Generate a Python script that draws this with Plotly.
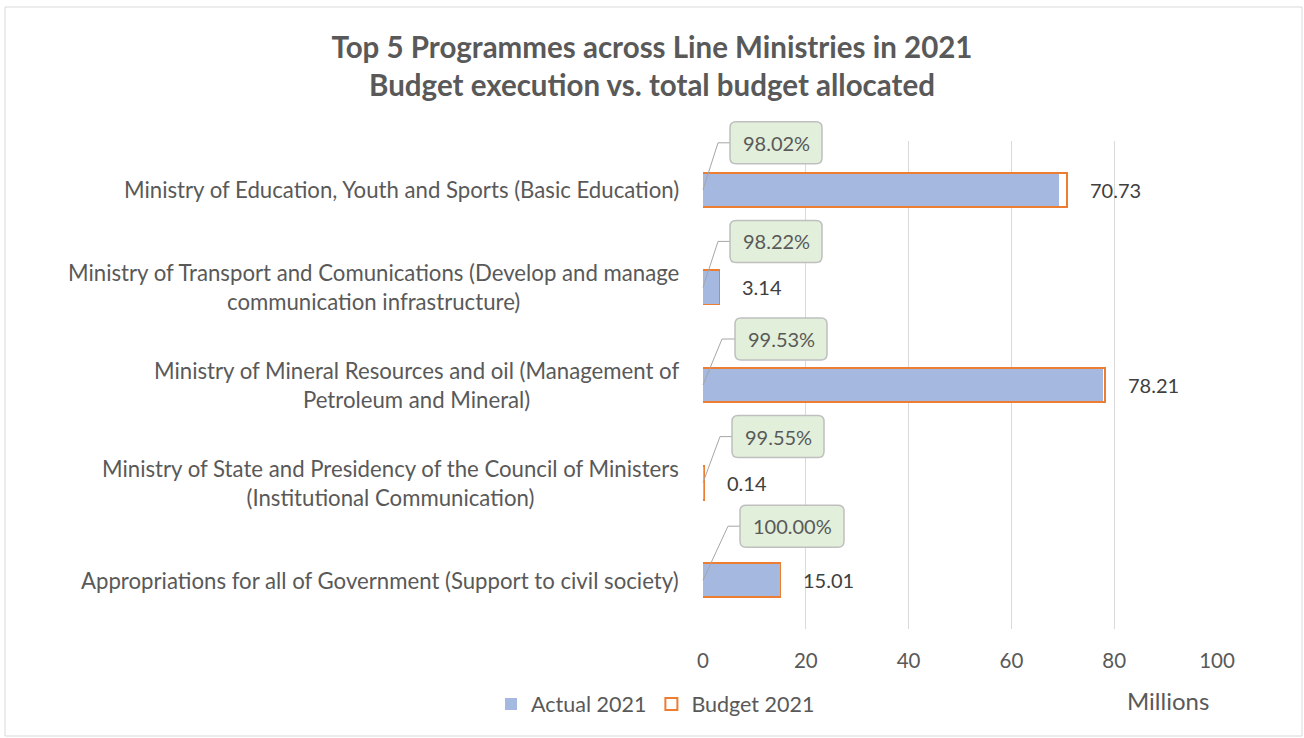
import plotly.graph_objects as go

categories = [
    "Ministry of Education, Youth and Sports (Basic Education)",
    "Ministry of Transport and Comunications (Develop and manage<br>communication infrastructure)",
    "Ministry of Mineral Resources and oil (Management of<br>Petroleum and Mineral)",
    "Ministry of State and Presidency of the Council of Ministers<br>(Institutional Communication)",
    "Appropriations for all of Government (Support to civil society)",
]
budget_2021 = [70.73, 3.14, 78.21, 0.14, 15.01]
actual_2021 = [69.33, 3.08, 77.84, 0.14, 15.01]
execution_labels = ["98.02%", "98.22%", "99.53%", "99.55%", "100.00%"]
x_ticks = [0, 20, 40, 60, 80, 100]

# layout geometry (pixels)
W, H = 1304, 738
L, R, T, B = 703, 87, 141, 109
PW, PH = W - L - R, H - T - B
FONT = "Lato"
GREY = "#595959"
N = len(categories)

ypos = list(range(N))


def ypaper(i):
    return 1 - (i + 0.5) / N


fig = go.Figure()
fig.add_trace(go.Bar(
    y=ypos, x=budget_2021, orientation="h", name="Budget 2021",
    marker=dict(color="white", line=dict(color="#ED7D31", width=2)),
    width=0.35, hoverinfo="skip",
))
fig.add_trace(go.Bar(
    y=ypos, x=actual_2021, orientation="h", name="Actual 2021",
    marker=dict(color="#A5B8E0", line=dict(width=0)),
    width=0.33, hoverinfo="skip",
))

annotations = []
shapes = []

# category labels
for i, c in enumerate(categories):
    annotations.append(dict(
        x=0, y=i, xref="x", yref="y", text=c, showarrow=False,
        xanchor="right", yanchor="middle", align="center", xshift=-22,
        font=dict(family=FONT, size=22.2, color=GREY),
    ))

# value labels
for i, v in enumerate(budget_2021):
    annotations.append(dict(
        x=v, y=i, xref="x", yref="y", text=f"{v:.2f}", showarrow=False,
        xanchor="left", yanchor="middle", xshift=21,
        font=dict(family=FONT, size=20, color="#404040"),
    ))

# callouts: (elbow_x, box_left, box_width, up)
callout_style = [(15, 27, 92, 47), (15, 27, 92, 46), (19, 32, 92, 46),
                 (17, 29, 92, 46), (25, 37, 104, 54)]
r = 6
hh = 21
for i, lab in enumerate(execution_labels):
    ex, bl, bw, up = callout_style[i]
    shapes.append(dict(
        type="path", xref="paper", yref="paper", xsizemode="pixel", ysizemode="pixel",
        xanchor=0, yanchor=ypaper(i),
        path=f"M 0,0 L {ex},{up} L {bl},{up}",
        line=dict(color="#A6A6A6", width=1),
    ))
    x0, x1 = bl, bl + bw
    y0, y1 = up - hh, up + hh
    p = (f"M {x0+r},{y0} L {x1-r},{y0} Q {x1},{y0} {x1},{y0+r} "
         f"L {x1},{y1-r} Q {x1},{y1} {x1-r},{y1} L {x0+r},{y1} "
         f"Q {x0},{y1} {x0},{y1-r} L {x0},{y0+r} Q {x0},{y0} {x0+r},{y0} Z")
    shapes.append(dict(
        type="path", xref="paper", yref="paper", xsizemode="pixel", ysizemode="pixel",
        xanchor=0, yanchor=ypaper(i), path=p, fillcolor="#E2EFDA",
        line=dict(color="#BFBFBF", width=1.5), layer="above",
    ))
    annotations.append(dict(
        x=0, y=ypaper(i), xref="paper", yref="paper", text=lab, showarrow=False,
        xanchor="center", yanchor="middle", xshift=bl + bw / 2, yshift=up,
        font=dict(family=FONT, size=20, color=GREY),
    ))

# Millions label
annotations.append(dict(
    x=(1168 - L) / PW, y=-(700 - (T + PH)) / PH, xref="paper", yref="paper",
    text="Millions", showarrow=False, xanchor="center", yanchor="middle",
    font=dict(family=FONT, size=24, color=GREY),
))

# outer border
shapes.append(dict(
    type="rect", xref="paper", yref="paper",
    x0=(5 - L) / PW, x1=(1302 - L) / PW,
    y0=-(736 - (T + PH)) / PH, y1=(T + PH - 7) / PH,
    line=dict(color="#D9D9D9", width=1), layer="below",
))

fig.update_layout(
    width=W, height=H, autosize=False,
    margin=dict(l=L, r=R, t=T, b=B),
    paper_bgcolor="white", plot_bgcolor="white",
    barmode="overlay", bargap=0,
    title=dict(
        text="<b>Top 5 Programmes across Line Ministries in 2021<br>Budget execution vs. total budget allocated</b>",
        x=652 / W, xanchor="center", y=1 - 58 / H, yanchor="middle",
        font=dict(family=FONT, size=29.5, color=GREY),
    ),
    xaxis=dict(
        range=[0, 100], tickvals=x_ticks, showgrid=True, gridcolor="#D9D9D9",
        gridwidth=1, zeroline=False, showline=False, ticks="",
        tickfont=dict(family=FONT, size=20.5, color=GREY), ticklabelstandoff=17,
    ),
    yaxis=dict(
        range=[N - 0.5, -0.5], showticklabels=False,
        showgrid=False, zeroline=False, showline=False, ticks="",
    ),
    legend=dict(
        orientation="h", x=(491 - L) / PW, xanchor="left",
        y=-(704 - (T + PH)) / PH, yanchor="middle", traceorder="reversed",
        font=dict(family=FONT, size=21.5, color=GREY),
        bgcolor="rgba(0,0,0,0)",
    ),
    annotations=annotations, shapes=shapes,
)

fig.write_html("out.html")
